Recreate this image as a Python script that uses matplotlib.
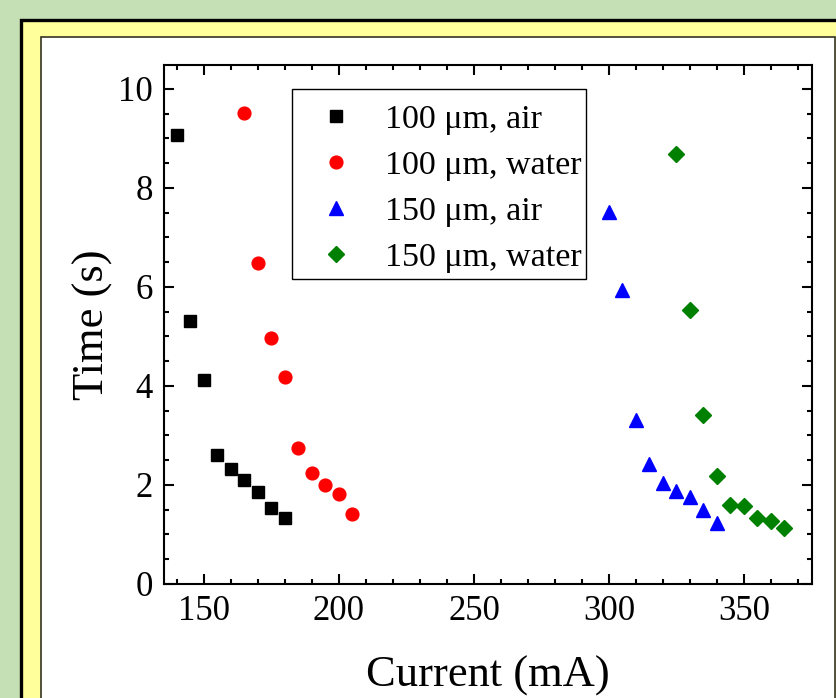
import matplotlib
matplotlib.use("Agg")
import matplotlib.pyplot as plt
from matplotlib.patches import Rectangle
from matplotlib.ticker import MultipleLocator

plt.rcParams['font.family'] = ['Liberation Serif', 'DejaVu Serif']

# Data
x_100_air = [140, 145, 150, 155, 160, 165, 170, 175, 180]
y_100_air = [9.07, 5.31, 4.12, 2.61, 2.32, 2.10, 1.86, 1.54, 1.33]
x_100_water = [165, 170, 175, 180, 185, 190, 195, 200, 205]
y_100_water = [9.52, 6.48, 4.97, 4.18, 2.75, 2.24, 2.00, 1.82, 1.41]
x_150_air = [300, 305, 310, 315, 320, 325, 330, 335, 340]
y_150_air = [7.52, 5.94, 3.31, 2.43, 2.03, 1.88, 1.75, 1.49, 1.24]
x_150_water = [325, 330, 335, 340, 345, 350, 355, 360, 365]
y_150_water = [8.69, 5.53, 3.41, 2.19, 1.60, 1.58, 1.33, 1.28, 1.13]
labels = ["100 \u03bcm, air", "100 \u03bcm, water", "150 \u03bcm, air", "150 \u03bcm, water"]
xticks = [150, 200, 250, 300, 350]
yticks = [0, 2, 4, 6, 8, 10]

W, H = 836, 698
fig = plt.figure(figsize=(W / 100, H / 100), dpi=100)
fig.patch.set_facecolor('#C5E0B4')

def px_rect(x0, y0, x1, y1, **kw):
    return Rectangle((x0 / W, 1 - y1 / H), (x1 - x0) / W, (y1 - y0) / H,
                     transform=fig.transFigure, **kw)

fig.patches.append(px_rect(20.5, 19.5, 860, 760, facecolor='#FFFF9C',
                           edgecolor='black', linewidth=2.4, zorder=-10))
fig.patches.append(px_rect(41, 36.5, 834.5, 740, facecolor='white',
                           edgecolor='#333322', linewidth=1.2, zorder=-9))

AX_L, AX_T, AX_R, AX_B = 164, 65, 812, 584
ax = fig.add_axes([AX_L / W, 1 - AX_B / H, (AX_R - AX_L) / W, (AX_B - AX_T) / H])
ax.set_zorder(5)
ax.plot(x_100_air, y_100_air, 's', color='black', ms=8.5, ls='none', label=labels[0])
ax.plot(x_100_water, y_100_water, 'o', color='#FF0000', ms=9.2, ls='none', label=labels[1])
ax.plot(x_150_air, y_150_air, '^', color='#0000FF', ms=10, ls='none', label=labels[2])
ax.plot(x_150_water, y_150_water, 'D', color='#008000', ms=7.8, ls='none', label=labels[3])

ax.set_xlim(135.2, 375.2)
ax.set_ylim(0, 10.48)
ax.set_xticks(xticks)
ax.set_yticks(yticks)
ax.xaxis.set_minor_locator(MultipleLocator(10))
ax.yaxis.set_minor_locator(MultipleLocator(0.5))
ax.tick_params(which='both', direction='in', top=True, right=True,
               labeltop=False, labelright=False, width=1.5, labelsize=25)
ax.tick_params(which='major', length=7.5, pad=8)
ax.tick_params(which='minor', length=3.8)
for s in ax.spines.values():
    s.set_linewidth(1.5)

ax.set_xlabel('Current (mA)', fontsize=32, labelpad=20)
ax.set_ylabel('Time (s)', fontsize=32, labelpad=3.5)

# legend frame (pixel box) and frameless legend entries
axw, axh = AX_R - AX_L, AX_B - AX_T
LB_L, LB_T, LB_R, LB_B = 292, 89, 586, 279
ax.add_patch(Rectangle(((LB_L - AX_L) / axw, (AX_B - LB_B) / axh),
                       (LB_R - LB_L) / axw, (LB_B - LB_T) / axh,
                       transform=ax.transAxes, facecolor='white', edgecolor='black',
                       linewidth=1.0, zorder=4))
leg = ax.legend(loc='upper left', bbox_to_anchor=((LB_L - AX_L) / axw, (AX_B - LB_T) / axh),
                borderaxespad=0, fontsize=24.5, frameon=False,
                handlelength=1.7, handletextpad=0.59,
                labelspacing=0.45, borderpad=0.44, numpoints=1)
leg.set_zorder(6)

fig.savefig('out.png', dpi=100, facecolor=fig.get_facecolor())
